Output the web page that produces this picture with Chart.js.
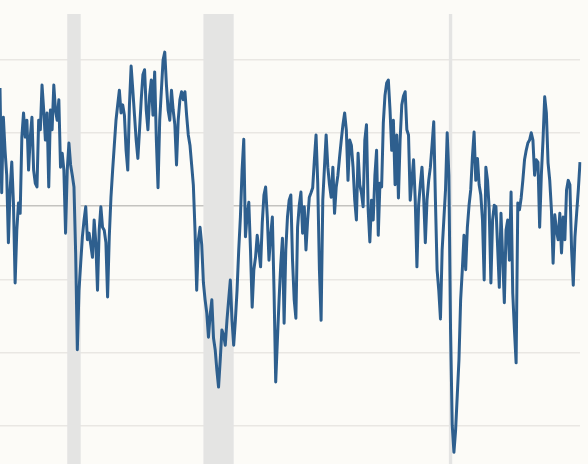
<!DOCTYPE html>
<html>
<head>
<meta charset="utf-8">
<script src="https://cdn.jsdelivr.net/npm/chart.js@4/dist/chart.umd.min.js"></script>
<style>
  html, body { margin: 0; padding: 0; background: #fcfbf7; }
  #wrap { width: 588px; height: 464px; position: relative; }
</style>
</head>
<body>
<div id="wrap"><canvas id="c" width="588" height="464"></canvas></div>
<script>
// Monthly series, first month below
const startMonth = '1997-11';
const values = [
  16.1, 1.8, 12.1, 7.6, 4.2, -5.0, 2.2, 6.0, 0.4, -10.5,
  -3.3, 0.4, -1.0, 9.4, 12.7, 9.4, 11.7, 4.9, 9.4, 12.1,
  4.9, 3.1, 2.6, 11.7, 10.4, 16.5, 13.1, 9.0, 12.7, 2.6,
  13.1, 10.4, 16.5, 13.1, 11.7, 14.5, 5.3, 7.2, 4.9, -3.7,
  4.9, 8.6, 5.6, 4.2, 2.6, -6.4, -19.6, -11.5, -7.8, -4.2,
  -1.9, -0.1, -4.6, -3.7, -5.3, -7.0, -1.9, -5.0, -11.5, -3.3,
  -0.1, -2.9, -3.3, -5.0, -12.4, -4.2, 1.2, 4.9, 8.3, 11.7,
  13.8, 15.8, 12.7, 13.8, 12.4, 7.6, 4.9, 13.8, 19.1, 15.8,
  12.4, 9.0, 6.5, 10.4, 14.5, 17.9, 18.6, 13.1, 10.4, 15.1,
  17.2, 12.4, 18.3, 9.0, 2.5, 11.7, 15.8, 19.9, 21.0, 16.5,
  13.1, 11.7, 15.8, 13.1, 11.1, 5.6, 11.7, 14.5, 15.6, 14.5,
  15.6, 12.4, 9.7, 8.3, 5.6, 2.9, -3.3, -11.5, -4.6, -2.9,
  -5.3, -10.5, -12.8, -14.6, -17.9, -14.9, -12.8, -18.0, -19.6, -22.4,
  -24.7, -21.0, -16.9, -17.6, -19.0, -15.6, -12.8, -10.1, -15.6, -19.0,
  -15.6, -11.5, -6.0, -1.5, 4.9, 9.1, -4.2, -1.2, 0.5, -6.0,
  -13.8, -8.7, -7.0, -4.0, -6.0, -8.3, -2.3, 1.5, 2.6, -1.5,
  -7.4, -4.0, -1.5, -11.5, -24.0, -18.3, -12.8, -8.0, -4.4, -16.0,
  -6.0, -1.5, 0.8, 1.5, -7.4, -12.8, -15.3, -2.9, 0.1, 1.9,
  -3.7, -0.1, -6.0, -1.9, 1.2, 1.8, 2.5, 6.3, 9.7, 3.1,
  -8.7, -15.6, 0.8, 5.3, 9.7, 5.3, 2.9, 1.2, 5.3, -1.0,
  2.6, 4.2, 6.7, 9.0, 11.1, 12.7, 10.4, 3.5, 9.0, 8.3,
  5.3, 0.8, -1.9, 7.2, 2.9, 1.8, -0.1, 9.0, 11.1, -0.5,
  -4.9, 0.8, -1.9, 4.2, 7.6, -4.0, 3.1, 2.6, 11.3, 15.1,
  16.8, 17.2, 13.1, 7.6, 11.7, 2.9, 9.7, 1.1, 9.0, 13.8,
  15.0, 15.6, 10.4, 9.7, 0.8, 3.5, 6.3, 0.8, -8.3, 0.1,
  2.9, 5.3, 1.2, -5.0, 0.8, 3.5, 5.3, 8.3, 11.5, 0.8,
  -8.7, -11.5, -15.4, -6.0, -1.9, 2.2, 10.0, 4.2, -16.9, -29.9,
  -33.6, -30.6, -25.8, -21.0, -12.8, -8.7, -4.0, -8.7, -2.9, 0.1,
  2.2, 6.7, 10.1, 3.5, 6.5, 2.9, 1.5, -1.9, -10.1, 5.3,
  3.5, -0.5, -10.5, -1.9, 0.1, -0.1, -5.6, -11.1, -1.0, -7.0,
  -13.2, -3.3, -1.9, -7.4, 1.9, -11.9, -16.9, -21.4, 0.4, -0.5,
  1.1, 3.5, 6.3, 7.6, 8.6, 9.0, 10.0, 9.0, 4.2, 6.3,
  6.0, -2.9, 4.2, 9.0, 14.9, 12.7, 5.9, 3.5, -0.5, -7.8,
  -1.2, -3.3, -4.6, -1.0, -6.4, -1.5, -4.6, 2.2, 3.5, 2.9,
  -6.0, -10.8, -4.2, -1.0, 2.2, 6.0
];
const recessionStart = ['2001-03', '2007-12', '2020-02'];
const recessionEnd   = ['2001-11', '2009-06', '2020-04'];
const gridValues = [-30, -20, -10, 0, 10, 20];

// category labels (months)
const labels = [];
{
  let [yy, mm] = startMonth.split('-').map(Number);
  for (let i = 0; i < values.length; i++) {
    labels.push(yy + '-' + String(mm).padStart(2, '0'));
    mm++; if (mm > 12) { mm = 1; yy++; }
  }
}

const recessionBands = {
  id: 'recessionBands',
  beforeDatasetsDraw(chart) {
    const { ctx, chartArea, scales: { x } } = chart;
    ctx.save();
    ctx.fillStyle = '#e4e4e3';
    recessionStart.forEach((s, k) => {
      const x0 = x.getPixelForValue(labels.indexOf(s));
      const x1 = x.getPixelForValue(labels.indexOf(recessionEnd[k]));
      ctx.fillRect(x0, chartArea.top, x1 - x0, chartArea.bottom - chartArea.top);
    });
    ctx.restore();
  }
};

const bg = {
  id: 'bg',
  beforeDraw(chart) {
    const { ctx, width, height } = chart;
    ctx.save();
    ctx.fillStyle = '#fcfbf7';
    ctx.fillRect(0, 0, width, height);
    ctx.restore();
  }
};

new Chart(document.getElementById('c'), {
  type: 'line',
  data: {
    labels: labels,
    datasets: [{
      data: values,
      borderColor: '#2e5f8e',
      borderWidth: 3,
      pointRadius: 0,
      tension: 0,
      borderJoinStyle: 'round',
      fill: false
    }]
  },
  options: {
    responsive: false,
    animation: false,
    devicePixelRatio: 1,
    layout: { padding: { top: 14, right: 8, bottom: 0, left: 0 } },
    plugins: { legend: { display: false }, tooltip: { enabled: false } },
    scales: {
      x: { type: 'category', display: false, offset: false },
      y: {
        min: -35.2, max: 26.2,
        ticks: { display: false, stepSize: 10 },
        border: { display: false },
        grid: {
          drawTicks: false,
          lineWidth: 1.5,
          color: (c) => {
            const v = c.tick && c.tick.value;
            if (v === 0) return '#c4c3c0';
            return gridValues.includes(v) ? '#e9e7e3' : 'rgba(0,0,0,0)';
          }
        }
      }
    }
  },
  plugins: [bg, recessionBands]
});
</script>
</body>
</html>
